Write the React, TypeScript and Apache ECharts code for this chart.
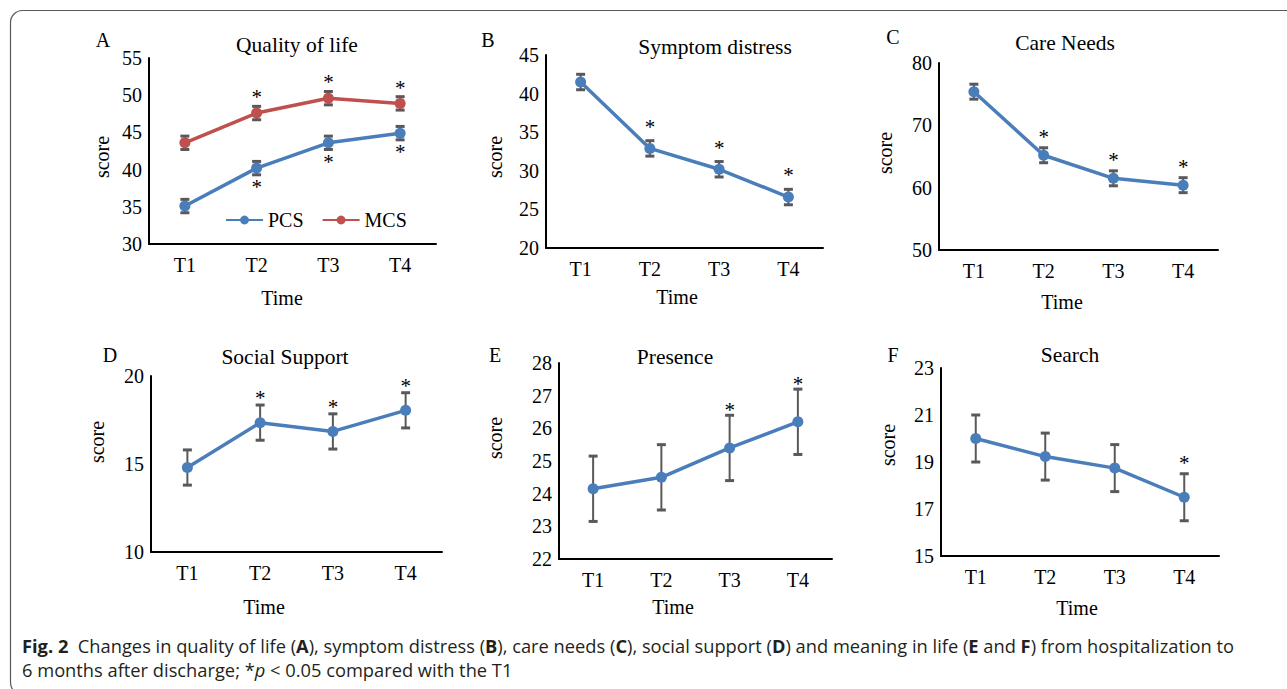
import React, { useEffect, useRef } from "react";
import * as echarts from "echarts";

// ---------- data ----------
const categories = ["T1", "T2", "T3", "T4"];

const pcsValues = [35.1, 40.2, 43.6, 44.9];
const pcsErrors = [0.9, 0.9, 0.9, 0.9];
const pcsSig = [false, true, true, true];
const mcsValues = [43.6, 47.6, 49.6, 48.9];
const mcsErrors = [0.9, 0.9, 0.9, 0.9];
const mcsSig = [false, true, true, true];
const qolTicks = [30, 35, 40, 45, 50, 55];

const symptomValues = [41.5, 32.9, 30.2, 26.6];
const symptomErrors = [1.0, 1.0, 1.0, 1.0];
const symptomSig = [false, true, true, true];
const symptomTicks = [20, 25, 30, 35, 40, 45];

const careValues = [75.4, 65.2, 61.5, 60.4];
const careErrors = [1.2, 1.2, 1.2, 1.2];
const careSig = [false, true, true, true];
const careTicks = [50, 60, 70, 80];

const socialValues = [14.8, 17.35, 16.85, 18.05];
const socialErrors = [1.0, 1.0, 1.0, 1.0];
const socialSig = [false, true, true, true];
const socialTicks = [10, 15, 20];

const presenceValues = [24.15, 24.5, 25.4, 26.2];
const presenceErrors = [1.0, 1.0, 1.0, 1.0];
const presenceSig = [false, false, true, true];
const presenceTicks = [22, 23, 24, 25, 26, 27, 28];

const searchValues = [20.0, 19.23, 18.74, 17.5];
const searchErrors = [1.0, 1.0, 1.0, 1.0];
const searchSig = [false, false, false, true];
const searchTicks = [15, 17, 19, 21, 23];

// ---------- styles ----------
const FONT = '"Liberation Serif", "Times New Roman", serif';
const SANS = '"Open Sans", "Noto Sans", sans-serif';
const BLUE = "#4A7EBB";
const RED = "#C0504D";
const ERR = "#595959";
const CAP_SIZE = 18.3;

type SeriesSpec = {
  name: string;
  values: number[];
  errors: number[];
  sig: boolean[];
  color: string;
  starBelow?: boolean;
  starGap: number;
};
type PanelSpec = {
  grid: { left: number; top: number; width: number; height: number };
  ticks: number[];
  title: string;
  titleAt: [number, number];
  letter: string;
  letterAt: [number, number];
  scoreAt: [number, number];
  timeAt: [number, number];
  series: SeriesSpec[];
};

const panels: PanelSpec[] = [
  {
    grid: { left: 149, top: 58, width: 287, height: 186 },
    ticks: qolTicks,
    title: "Quality of life",
    titleAt: [297, 45],
    letter: "A",
    letterAt: [103, 40],
    scoreAt: [102, 157],
    timeAt: [282, 298],
    series: [
      { name: "PCS", values: pcsValues, errors: pcsErrors, sig: pcsSig, color: BLUE, starBelow: true, starGap: 9 },
      { name: "MCS", values: mcsValues, errors: mcsErrors, sig: mcsSig, color: RED, starGap: 12 },
    ],
  },
  {
    grid: { left: 546, top: 55, width: 277, height: 193 },
    ticks: symptomTicks,
    title: "Symptom distress",
    titleAt: [715, 47],
    letter: "B",
    letterAt: [488, 40],
    scoreAt: [495, 157],
    timeAt: [677, 297],
    series: [{ name: "Symptom distress", values: symptomValues, errors: symptomErrors, sig: symptomSig, color: BLUE, starGap: 17 }],
  },
  {
    grid: { left: 939, top: 63, width: 279, height: 187 },
    ticks: careTicks,
    title: "Care Needs",
    titleAt: [1065, 43],
    letter: "C",
    letterAt: [893, 37],
    scoreAt: [885, 153],
    timeAt: [1062, 302],
    series: [{ name: "Care Needs", values: careValues, errors: careErrors, sig: careSig, color: BLUE, starGap: 14 }],
  },
  {
    grid: { left: 151, top: 376, width: 291, height: 176 },
    ticks: socialTicks,
    title: "Social Support",
    titleAt: [285, 357],
    letter: "D",
    letterAt: [110, 355],
    scoreAt: [97, 442],
    timeAt: [264, 607],
    series: [{ name: "Social Support", values: socialValues, errors: socialErrors, sig: socialSig, color: BLUE, starGap: 10 }],
  },
  {
    grid: { left: 559, top: 363, width: 273, height: 196 },
    ticks: presenceTicks,
    title: "Presence",
    titleAt: [675, 357],
    letter: "E",
    letterAt: [495, 355],
    scoreAt: [495, 438],
    timeAt: [673, 607],
    series: [{ name: "Presence", values: presenceValues, errors: presenceErrors, sig: presenceSig, color: BLUE, starGap: 8.5 }],
  },
  {
    grid: { left: 941, top: 368, width: 278, height: 188 },
    ticks: searchTicks,
    title: "Search",
    titleAt: [1070, 355],
    letter: "F",
    letterAt: [893, 355],
    scoreAt: [888, 445],
    timeAt: [1077, 608],
    series: [{ name: "Search", values: searchValues, errors: searchErrors, sig: searchSig, color: BLUE, starGap: 14 }],
  },
];

function centeredText(text: string, x: number, y: number, size: number, rotate = 0) {
  return {
    type: "text",
    x,
    y,
    rotation: rotate,
    silent: true,
    style: {
      text,
      fill: "#000",
      fontSize: size,
      fontFamily: FONT,
      align: "center",
      verticalAlign: "middle",
    },
  };
}

function buildOption() {
  const grid: any[] = [];
  const xAxis: any[] = [];
  const yAxis: any[] = [];
  const series: any[] = [];
  const graphic: any[] = [];

  panels.forEach((p, i) => {
    grid.push({ ...p.grid, containLabel: false });
    xAxis.push({
      type: "category",
      gridIndex: i,
      data: categories,
      axisLine: { lineStyle: { color: "#000", width: 2 } },
      axisTick: { show: false },
      axisLabel: { color: "#000", fontSize: 20, fontFamily: FONT, margin: 11 },
    });
    const t = p.ticks;
    yAxis.push({
      type: "value",
      gridIndex: i,
      min: t[0],
      max: t[t.length - 1],
      interval: t[1] - t[0],
      axisLine: { show: true, lineStyle: { color: "#000", width: 2 } },
      axisTick: { show: false },
      splitLine: { show: false },
      axisLabel: { color: "#000", fontSize: 20, fontFamily: FONT, margin: 7 },
    });

    p.series.forEach((s) => {
      series.push({
        type: "custom",
        xAxisIndex: i,
        yAxisIndex: i,
        silent: true,
        z: 1,
        encode: { x: 0, y: 1 },
        data: s.values.map((v, k) => [k, v, s.errors[k]]),
        renderItem: (params: any, api: any) => {
          const k = api.value(0);
          const v = api.value(1);
          const e = api.value(2);
          const top = api.coord([k, v + e]);
          const bot = api.coord([k, v - e]);
          const cw = 4.5;
          const st = { stroke: ERR, lineWidth: 2 };
          const cap = { stroke: ERR, lineWidth: 3 };
          return {
            type: "group",
            children: [
              { type: "line", shape: { x1: top[0], y1: top[1], x2: bot[0], y2: bot[1] }, style: st },
              { type: "line", shape: { x1: top[0] - cw, y1: top[1], x2: top[0] + cw, y2: top[1] }, style: cap },
              { type: "line", shape: { x1: bot[0] - cw, y1: bot[1], x2: bot[0] + cw, y2: bot[1] }, style: cap },
            ],
          };
        },
      });
      series.push({
        type: "line",
        name: s.name,
        xAxisIndex: i,
        yAxisIndex: i,
        data: s.values,
        symbol: "circle",
        symbolSize: 11,
        showSymbol: true,
        lineStyle: { color: s.color, width: 3.5 },
        itemStyle: { color: s.color },
        z: 3,
      });
      const stars = s.values
        .map((v, k) => [k, v, s.errors[k]])
        .filter((_, k) => s.sig[k]);
      series.push({
        type: "custom",
        xAxisIndex: i,
        yAxisIndex: i,
        silent: true,
        z: 4,
        encode: { x: 0, y: 1 },
        data: stars,
        renderItem: (params: any, api: any) => {
          const k = api.value(0);
          const v = api.value(1);
          const e = api.value(2);
          const edge = api.coord([k, s.starBelow ? v - e : v + e]);
          const cy = s.starBelow ? edge[1] + s.starGap : edge[1] - s.starGap;
          return {
            type: "text",
            x: edge[0],
            y: cy + 3,
            style: {
              text: "*",
              fill: "#000",
              fontSize: 21,
              fontFamily: FONT,
              align: "center",
              verticalAlign: "middle",
            },
          };
        },
      });
    });

    graphic.push(centeredText(p.title, p.titleAt[0], p.titleAt[1], 21.5));
    graphic.push(centeredText(p.letter, p.letterAt[0], p.letterAt[1], 20));
    graphic.push(centeredText("score", p.scoreAt[0], p.scoreAt[1], 20, Math.PI / 2));
    graphic.push(centeredText("Time", p.timeAt[0], p.timeAt[1], 20));
  });

  // frame
  graphic.push({
    type: "rect",
    silent: true,
    z: -10,
    shape: { x: 10.5, y: 10.5, width: 1320, height: 684, r: 12 },
    style: { fill: "none", stroke: "#5a5a5a", lineWidth: 1.2 },
  });

  const rich = {
    fb: { fontFamily: SANS, fontSize: CAP_SIZE, fontWeight: "bold", fill: "#231F20" },
    b: { fontFamily: SANS, fontSize: CAP_SIZE, fontWeight: "bold", fill: "#231F20" },
    i: { fontFamily: SANS, fontSize: CAP_SIZE, fontStyle: "italic", fill: "#231F20" },
  };
  graphic.push({
    type: "text",
    x: 22,
    y: 645,
    silent: true,
    style: {
      text:
        "{fb|Fig. 2}  Changes in quality of life ({b|A}), symptom distress ({b|B}), care needs ({b|C}), social support ({b|D}) and meaning in life ({b|E} and {b|F}) from hospitalization to",
      rich,
      fontFamily: SANS,
      fontSize: CAP_SIZE,
      fill: "#231F20",
      align: "left",
      verticalAlign: "middle",
    },
  });
  graphic.push({
    type: "text",
    x: 22,
    y: 669,
    silent: true,
    style: {
      text: "6 months after discharge; *{i|p} < 0.05 compared with the T1",
      rich,
      fontFamily: SANS,
      fontSize: CAP_SIZE,
      fill: "#231F20",
      align: "left",
      verticalAlign: "middle",
    },
  });

  return {
    animation: false,
    backgroundColor: "#fff",
    grid,
    xAxis,
    yAxis,
    series,
    graphic,
    legend: {
      data: ["PCS", "MCS"],
      left: 225,
      top: 210,
      padding: 0,
      itemWidth: 37,
      itemHeight: 11,
      itemGap: 18,
      textStyle: { color: "#000", fontSize: 20, fontFamily: FONT },
      selectedMode: false,
    },
  };
}

export default function App() {
  const ref = useRef<HTMLDivElement>(null);
  useEffect(() => {
    if (!ref.current) return;
    const chart = echarts.init(ref.current, undefined, { renderer: "svg" });
    chart.setOption(buildOption() as any);
    return () => chart.dispose();
  }, []);
  return (
    <div
      ref={ref}
      style={{ position: "fixed", left: 0, top: 0, width: 1287, height: 689, background: "#fff" }}
    />
  );
}
